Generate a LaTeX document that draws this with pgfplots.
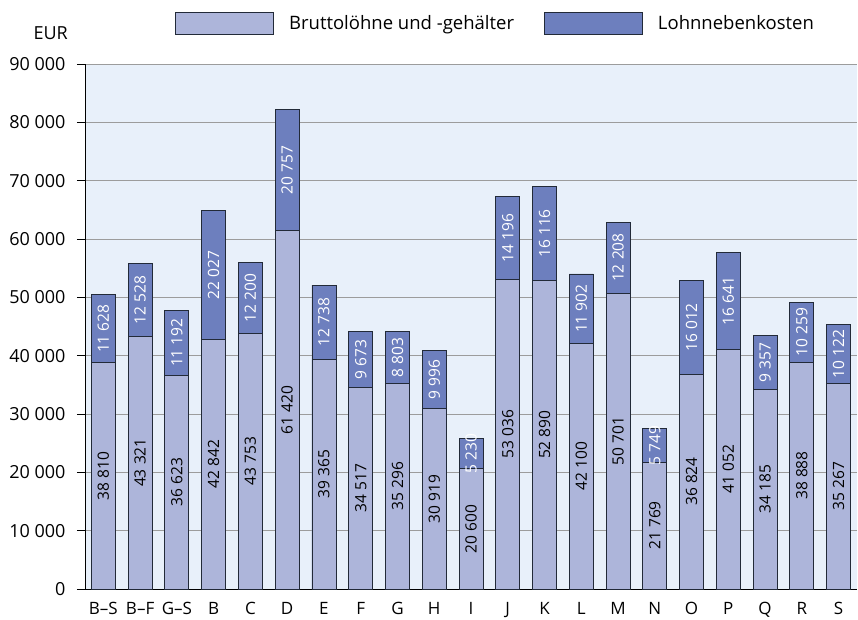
\documentclass[border=0pt]{standalone}
\usepackage{fontspec}
\setmainfont{Open Sans}
\usepackage{pgfplots}
\usepackage{pgfplotstable}
\pgfplotsset{compat=1.18}
\definecolor{lightbar}{HTML}{ADB5DA}
\definecolor{darkbar}{HTML}{6D7FBE}
\definecolor{bgblue}{HTML}{E8F0FA}
\definecolor{gridgray}{HTML}{9C9C9C}
\definecolor{edge}{HTML}{222a38}
\pgfplotstableread{
x a b
0 38810 11628
1 43321 12528
2 36623 11192
3 42842 22027
4 43753 12200
5 61420 20757
6 39365 12738
7 34517 9673
8 35296 8803
9 30919 9996
10 20600 5230
11 53036 14196
12 52890 16116
13 42100 11902
14 50701 12208
15 21769 5749
16 36824 16012
17 41052 16641
18 34185 9357
19 38888 10259
20 35267 10122
}\datatable
\begin{document}
\begin{tikzpicture}[font=\fontsize{16}{19}\selectfont]
\begin{axis}[
  at={(0pt,0pt)}, anchor=south west,
  scale only axis,
  width=772pt, height=525pt,
  xmin=-0.5, xmax=20.5,
  ymin=0, ymax=90000,
  axis lines*=left,
  axis line style={black, line width=0.8pt},
  axis background/.style={fill=bgblue},
  ymajorgrids,
  grid style={gridgray, line width=1pt},
  ytick={0,10000,...,90000},
  scaled y ticks=false,
  /pgf/number format/assume math mode=true,
  yticklabel={\pgfmathprintnumber[fixed,precision=0,1000 sep={\ }]{\tick}},
  yticklabel style={font=\fontsize{18}{21}\selectfont, xshift=-8pt},
  tick align=outside,
  major tick length=8pt,
  ytick style={black, line width=0.8pt},
  xtick=data,
  xtick style={draw=none},
  xticklabels={B\textendash S, B\textendash F, G\textendash S, B, C, D, E, F, G, H, I, J, K, L, M, N, O, P, Q, R, S},
  xticklabel style={font=\fontsize{17}{20}\selectfont, yshift=-2pt},
  legend columns=2,
  legend style={draw=none, fill=none, inner sep=0pt, at={(0.1166,1.099)}, anchor=north west,
    font=\fontsize{18.5}{21}\selectfont,
    /tikz/every odd column/.append style={column sep=13pt},
    /tikz/every even column/.append style={column sep=28pt}},
  legend image code/.code={\draw[#1] (0pt,-11pt) rectangle (98pt,11pt);},
  clip=false,
]
\addplot[ybar, bar width=24pt, bar shift=0pt, fill=darkbar, draw=edge, line width=0.9pt, forget plot]
  table[x=x, y expr=\thisrow{a}+\thisrow{b}] {\datatable};
\addplot[ybar, bar width=24pt, bar shift=0pt, fill=lightbar, draw=edge, line width=0.9pt, forget plot]
  table[x=x, y=a] {\datatable};
\addplot[draw=none, mark=none, forget plot,
  point meta=explicit,
  nodes near coords={\pgfmathprintnumber[fixed,precision=0,1000 sep={\kern0.27em}]{\pgfplotspointmeta}},
  every node near coord/.append style={rotate=90, anchor=center, text=black, font=\fontsize{15.5}{18}\selectfont}]
  table[x=x, y expr=\thisrow{a}/2, meta=a] {\datatable};
\addplot[draw=none, mark=none, forget plot,
  point meta=explicit,
  nodes near coords={\pgfmathprintnumber[fixed,precision=0,1000 sep={\kern0.27em}]{\pgfplotspointmeta}},
  every node near coord/.append style={rotate=90, anchor=center, text=white, font=\fontsize{15.5}{18}\selectfont}]
  table[x=x, y expr=\thisrow{a}+\thisrow{b}/2, meta=b] {\datatable};
\addlegendimage{fill=lightbar, draw=edge, line width=0.9pt}
\addlegendentry{Bruttolöhne und -gehälter}
\addlegendimage{fill=darkbar, draw=edge, line width=0.9pt}
\addlegendentry{Lohnnebenkosten}
\node[anchor=east, inner sep=0pt, font=\fontsize{18}{21}\selectfont] at (rel axis cs:0,1) [xshift=-17pt, yshift=31pt] {EUR};
\end{axis}
\pgfresetboundingbox
\path[use as bounding box] (-85pt,-30pt) rectangle (773pt,589pt);
\end{tikzpicture}
\end{document}
